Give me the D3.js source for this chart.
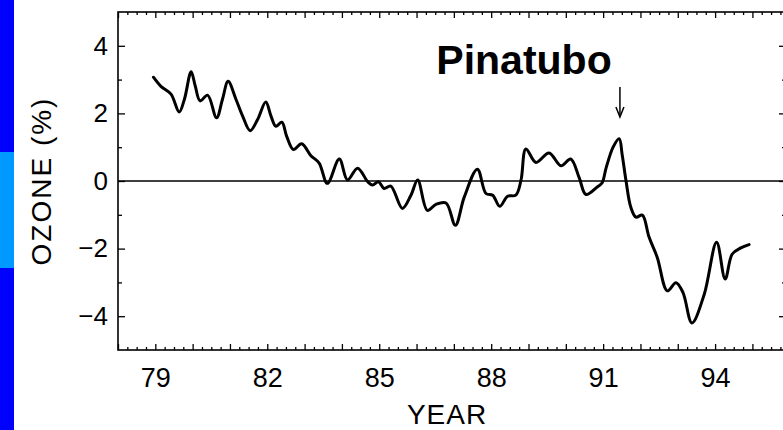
<!DOCTYPE html>
<html><head><meta charset="utf-8">
<script src="https://cdn.jsdelivr.net/npm/d3@7"></script>
<style>body{margin:0;background:#fff;overflow:hidden}svg{display:block}</style>
</head><body>
<script>
const years = [78.95,79.15,79.42,79.64,79.78,79.96,80.07,80.20,80.40,80.64,80.80,80.95,81.16,81.34,81.54,81.74,81.96,82.10,82.23,82.39,82.52,82.70,82.92,83.17,83.39,83.61,83.93,84.15,84.42,84.69,84.82,84.98,85.13,85.31,85.62,85.85,86.03,86.29,86.52,86.79,87.04,87.28,87.63,87.86,88.04,88.23,88.44,88.66,88.80,88.93,89.20,89.55,89.87,90.13,90.36,90.54,90.85,90.97,91.08,91.27,91.43,91.51,91.61,91.74,91.88,92.05,92.23,92.45,92.72,92.95,93.14,93.38,93.71,94.04,94.27,94.46,94.69,94.91];
const ozone = [3.07,2.80,2.57,2.04,2.42,3.23,2.81,2.37,2.54,1.87,2.42,2.95,2.42,1.92,1.49,1.82,2.34,1.92,1.62,1.74,1.32,0.93,1.10,0.75,0.53,-0.07,0.65,0.03,0.38,-0.02,-0.12,-0.02,-0.22,-0.15,-0.81,-0.42,0.03,-0.87,-0.69,-0.65,-1.31,-0.47,0.35,-0.37,-0.42,-0.75,-0.45,-0.42,0.03,0.95,0.55,0.83,0.45,0.65,0.09,-0.40,-0.17,-0.06,0.39,1.01,1.25,0.78,0.03,-0.77,-1.07,-1.01,-1.66,-2.26,-3.25,-3.01,-3.30,-4.20,-3.35,-1.81,-2.90,-2.16,-1.98,-1.88];
const xTickValues = [79,82,85,88,91,94];
const xTickLabels = ["79","82","85","88","91","94"];
const yTickValues = [-4,-2,0,2,4];
const yTickLabels = ["\u22124","\u22122","0","2","4"];
const xLabel = "YEAR";
const yLabel = "OZONE  (%)";
const eventLabel = "Pinatubo";
const eventYear = 91.45;

const W = 783, H = 430;
const svg = d3.select("body").append("svg").attr("width", W).attr("height", H);

// side bar
svg.append("rect").attr("x",0).attr("y",0).attr("width",14).attr("height",H).attr("fill","#0000ff");
svg.append("rect").attr("x",0).attr("y",152).attr("width",14).attr("height",116).attr("fill","#0099ff");

const L = 118, R = 786, T = 12, B = 350;
const x = d3.scaleLinear().domain([78, 95.9]).range([L, R]);
const y = d3.scaleLinear().domain([-5, 5]).range([B, T]);

const font = "Liberation Sans, Arial, Helvetica, sans-serif";
const allYears = d3.range(78, 96);
const quarters = d3.range(78, 95.9, 0.25).filter(v => Math.abs(v - Math.round(v)) > 0.01);
const yMinor = [-3,-1,1,3];

function style(g){ g.select(".domain").remove(); g.selectAll("line").attr("stroke","#000").attr("stroke-width",1.3); }

// bottom axis
svg.append("g").attr("transform",`translate(0,${B})`)
  .call(d3.axisBottom(x).tickValues(quarters).tickSizeInner(-3).tickSizeOuter(0).tickFormat(""))
  .call(style);
svg.append("g").attr("transform",`translate(0,${B})`)
  .call(d3.axisBottom(x).tickValues(allYears).tickSizeInner(-6).tickSizeOuter(0).tickPadding(18)
    .tickFormat(d => { const i = xTickValues.indexOf(d); return i >= 0 ? xTickLabels[i] : ""; }))
  .call(style)
  .call(g => g.selectAll("text").attr("font-family",font).attr("font-size",27).attr("fill","#000"));
// top axis
svg.append("g").attr("transform",`translate(0,${T})`)
  .call(d3.axisTop(x).tickValues(quarters).tickSizeInner(-3).tickSizeOuter(0).tickFormat(""))
  .call(style);
svg.append("g").attr("transform",`translate(0,${T})`)
  .call(d3.axisTop(x).tickValues(allYears).tickSizeInner(-6).tickSizeOuter(0).tickFormat(""))
  .call(style);
// left axis
svg.append("g").attr("transform",`translate(${L},0)`)
  .call(d3.axisLeft(y).tickValues(yMinor).tickSizeInner(-4).tickSizeOuter(0).tickFormat(""))
  .call(style);
svg.append("g").attr("transform",`translate(${L},0)`)
  .call(d3.axisLeft(y).tickValues(yTickValues).tickSizeInner(-7).tickSizeOuter(0).tickPadding(10)
    .tickFormat((d,i) => yTickLabels[yTickValues.indexOf(d)]))
  .call(style)
  .call(g => g.selectAll("text").attr("font-family",font).attr("font-size",26).attr("fill","#000"));
// right axis
svg.append("g").attr("transform",`translate(${R},0)`)
  .call(d3.axisRight(y).tickValues(yMinor).tickSizeInner(-4).tickSizeOuter(0).tickFormat(""))
  .call(style);
svg.append("g").attr("transform",`translate(${R},0)`)
  .call(d3.axisRight(y).tickValues(yTickValues).tickSizeInner(-7).tickSizeOuter(0).tickFormat(""))
  .call(style);

// frame
svg.append("rect").attr("x",L).attr("y",T).attr("width",R-L).attr("height",B-T)
  .attr("fill","none").attr("stroke","#000").attr("stroke-width",1.6);

// zero line
svg.append("line").attr("x1",L).attr("x2",R).attr("y1",y(0)).attr("y2",y(0))
  .attr("stroke","#000").attr("stroke-width",1.4);

// data line
const line = d3.line().x((d,i)=>x(years[i])).y((d,i)=>y(ozone[i])).curve(d3.curveCatmullRom.alpha(0.5));
svg.append("path").datum(ozone).attr("d", line)
  .attr("fill","none").attr("stroke","#000").attr("stroke-width",3).attr("stroke-linejoin","round").attr("stroke-linecap","round");

// annotation
svg.append("text").attr("x",524).attr("y",74).attr("text-anchor","middle")
  .attr("font-family",font).attr("font-weight","bold").attr("font-size",41).attr("fill","#000").text(eventLabel);
const ax = x(eventYear);
svg.append("line").attr("x1",ax).attr("x2",ax).attr("y1",87).attr("y2",115).attr("stroke","#000").attr("stroke-width",1.5);
svg.append("path").attr("d",`M${ax-4},${107} L${ax},${117} L${ax+4},${107}`).attr("fill","none").attr("stroke","#000").attr("stroke-width",1.5);

// axis titles
svg.append("text").attr("x",(L+R)/2 - 5).attr("y",424).attr("text-anchor","middle")
  .attr("font-family",font).attr("font-size",28).attr("letter-spacing",1).attr("fill","#000").text(xLabel);
svg.append("text").attr("transform",`translate(51,${y(0)}) rotate(-90)`).attr("text-anchor","middle")
  .attr("font-family",font).attr("font-size",28).attr("letter-spacing",2).attr("fill","#000").text(yLabel);
</script>
</body></html>
